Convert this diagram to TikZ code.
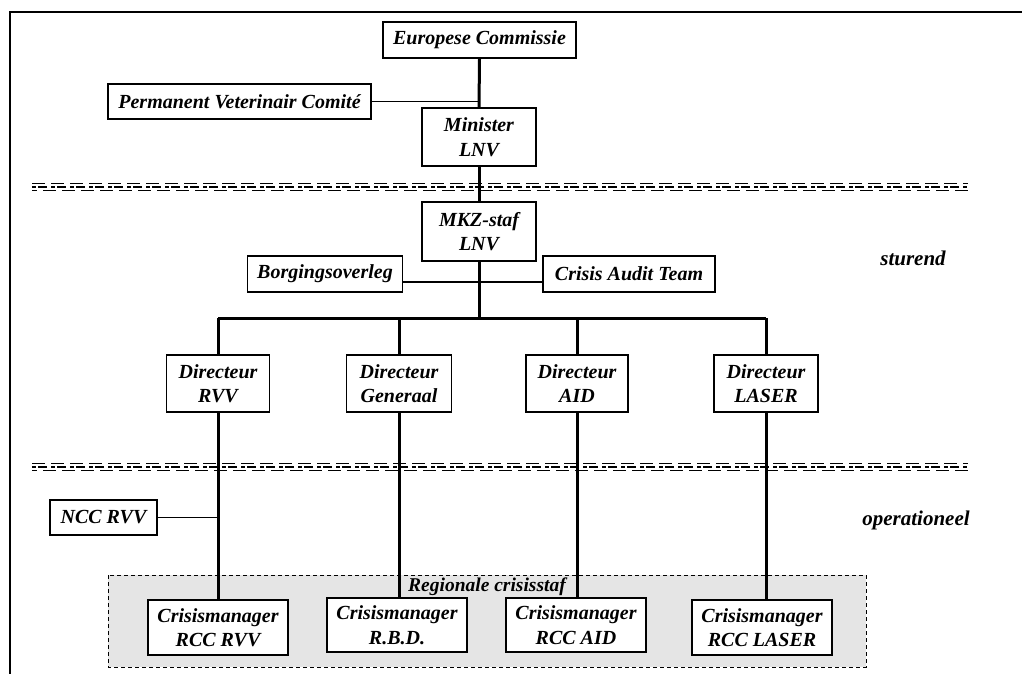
\documentclass[tikz,border=0pt]{standalone}
\usepackage{fontspec}
\setmainfont{Liberation Serif}
\begin{document}
\begin{tikzpicture}[x=1pt,y=-1pt,
  box/.style={draw, line width=1.4pt, fill=white, align=center,
    font=\fontsize{20}{24.5}\selectfont\bfseries\itshape, inner sep=0pt},
  lbl/.style={font=\fontsize{21}{24}\selectfont\bfseries\itshape, inner sep=0pt},
  mainline/.style={line width=3pt},
  sideline/.style={line width=1.1pt},
  septop/.style={line width=1.3pt, dash pattern=on 13pt off 6pt},
  sepmid/.style={line width=2.2pt, dash pattern=on 4pt off 2pt on 9pt off 4pt},
  sepbot/.style={line width=1.3pt, dash pattern=on 13pt off 6pt, dash phase=8pt}]
\useasboundingbox (0,0) rectangle (1022,674);
% frame
\draw[line width=2.2pt] (10,674) -- (10,12) -- (1022,12);
% regional area
\draw[fill=gray!20, line width=1pt, dash pattern=on 4pt off 3pt] (108,575) rectangle (866,667);
\node[lbl, font=\fontsize{19.5}{23}\selectfont\bfseries\itshape] (reg) at (487,587) {Regionale crisisstaf};
% separators
\foreach \yy in {187,467}{
  \draw[septop] (32,\yy-3.5) -- (968,\yy-3.5);
  \draw[sepmid] (32,\yy) -- (968,\yy);
  \draw[sepbot] (32,\yy+3.5) -- (968,\yy+3.5);
}
% nodes
\node[box, minimum width=193pt, minimum height=36pt] (ec) at (479.5,40) {Europese Commissie};
\node[box, minimum width=263pt, minimum height=35pt] (pvc) at (239.5,101.5) {Permanent Veterinair Comité};
\node[box, minimum width=114pt, minimum height=58pt] (min) at (479,137) {Minister\\LNV};
\node[box, minimum width=114pt, minimum height=59pt] (mkz) at (479,231.5) {MKZ-staf\\LNV};
\node[box, minimum width=155pt, minimum height=36pt] (borg) at (325,274) {Borgingsoverleg};
\node[box, minimum width=172pt, minimum height=36pt] (cat) at (629,274) {Crisis Audit Team};
\node[box, minimum width=103pt, minimum height=57pt] (drvv) at (218,383.5) {Directeur\\RVV};
\node[box, minimum width=105pt, minimum height=57pt] (dgen) at (399,383.5) {Directeur\\Generaal};
\node[box, minimum width=102pt, minimum height=57pt] (daid) at (577,383.5) {Directeur\\AID};
\node[box, minimum width=104pt, minimum height=57pt] (dlas) at (766,383.5) {Directeur\\LASER};
\node[box, minimum width=107pt, minimum height=35pt] (ncc) at (103.5,517.5) {NCC RVV};
\node[box, minimum width=140pt, minimum height=55pt] (crvv) at (218,627.5) {Crisismanager\\RCC RVV};
\node[box, minimum width=140pt, minimum height=54pt] (crbd) at (397,625) {Crisismanager\\R.B.D.};
\node[box, minimum width=140pt, minimum height=54pt] (caid) at (576,625) {Crisismanager\\RCC AID};
\node[box, minimum width=140pt, minimum height=55pt] (clas) at (762,627.5) {Crisismanager\\RCC LASER};
\node[lbl] (st) at (913,258) {sturend};
\node[lbl] (op) at (916,520) {operationeel};
% connectors
\coordinate (bus) at (479,318);
\draw[mainline] (ec.south) -- (min.north);
\draw[mainline] (min.south) -- (mkz.north);
\draw[mainline] (mkz.south) -- (bus);
\draw[sideline] (pvc.east) -- (pvc.east -| ec.south);
\draw[sideline] ([yshift=-8pt]borg.east) -- ([yshift=-8pt]borg.east -| mkz.south);
\draw[sideline] ([yshift=-8pt]cat.west) -- ([yshift=-8pt]cat.west -| mkz.south);
\draw[mainline] (drvv.north |- bus) -- (dlas.north |- bus);
\draw[mainline] (drvv.north) -- (drvv.north |- bus);
\draw[mainline] (dgen.north) -- (dgen.north |- bus);
\draw[mainline] (daid.north) -- (daid.north |- bus);
\draw[mainline] (dlas.north) -- (dlas.north |- bus);
\draw[mainline] (drvv.south) -- (drvv.south |- crvv.north);
\draw[mainline] (dgen.south) -- (dgen.south |- crbd.north);
\draw[mainline] (daid.south) -- (daid.south |- caid.north);
\draw[mainline] (dlas.south) -- (dlas.south |- clas.north);
\draw[sideline] (ncc.east) -- (ncc.east -| drvv.south);
\end{tikzpicture}
\end{document}
